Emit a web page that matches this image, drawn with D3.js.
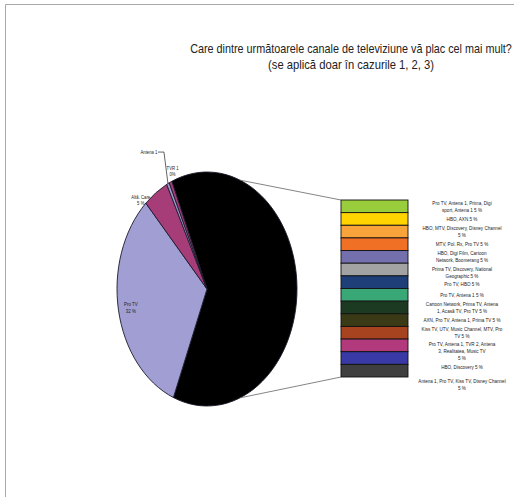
<!DOCTYPE html>
<html><head><meta charset="utf-8">
<script src="https://cdn.jsdelivr.net/npm/d3@7"></script>
<style>body{margin:0;background:#fff}svg{display:block}</style>
</head><body>
<script>
// ---------- data ----------
const titleLines = ["Care dintre următoarele canale de televiziune vă plac cel mai mult?", "(se aplică doar în cazurile 1, 2, 3)"];
const pieCategories = ["Pro TV", "Altă. Care", "Antena 1", "TVR 1"];
const pieValues = [32, 4.5, 0.5, 0.5];
const pieLabels = [["Pro TV", "32 %"], ["Altă. Care", "5 %"], ["Antena 1"], ["TVR 1", "0%"]];
const pieColors = ["#a09ed2", "#a73d78", "#9a98cc", "#a73d78"];
const otherColor = "#000000";
const barCategories = [
  "Pro TV, Antena 1, Prima, Digi sport, Antena 1",
  "HBO, AXN",
  "HBO, MTV, Discovery, Disney Channel",
  "MTV, Pol. Rx, Pro TV",
  "HBO, Digi Film, Cartoon Network, Boomerang",
  "Prima TV, Discovery, National Geographic",
  "Pro TV, HBO",
  "Pro TV, Antena 1",
  "Cartoon Network, Prima TV, Antena 1, Acasă TV, Pro TV",
  "AXN, Pro TV, Antena 1, Prima TV",
  "Kiss TV, UTV, Music Channel, MTV, Pro TV",
  "Pro TV, Antena 1, TVR 2, Antena 3, Realitatea, Music TV",
  "HBO, Discovery",
  "Antena 1, Pro TV, Kiss TV, Disney Channel"
];
const barValues = [4.46, 4.46, 4.46, 4.46, 4.46, 4.46, 4.46, 4.46, 4.46, 4.46, 4.46, 4.46, 4.46, 4.46];
const barLabelLines = [
  ["Pro TV, Antena 1, Prima, Digi", "sport, Antena 1  5 %"],
  ["HBO, AXN  5 %"],
  ["HBO, MTV, Discovery, Disney Channel", "5 %"],
  ["MTV, Pol. Rx, Pro TV 5 %"],
  ["HBO, Digi Film, Cartoon", "Network, Boomerang 5 %"],
  ["Prima TV, Discovery, National", "Geographic 5 %"],
  ["Pro TV, HBO  5 %"],
  ["Pro TV, Antena 1 5 %"],
  ["Cartoon Network, Prima TV, Antena", "1, Acasă TV, Pro TV 5 %"],
  ["AXN, Pro TV, Antena 1, Prima TV  5 %"],
  ["Kiss TV, UTV, Music Channel, MTV, Pro", "TV 5 %"],
  ["Pro TV, Antena 1, TVR 2, Antena", "3, Realitatea, Music TV", "5 %"],
  ["HBO, Discovery 5 %"],
  ["Antena 1, Pro TV, Kiss TV, Disney Channel", "5 %"]
];
const barColors = ["#9acd3c", "#ffd400", "#f8a43a", "#f07126", "#7470ae", "#a3a3a3", "#1e3f78", "#3aa876",
                   "#1c3a22", "#3a3a16", "#a8431f", "#b23a7c", "#3a3aa6", "#3f3f3f"];

// ---------- layout ----------
const W = 514, H = 497;
const FONT = "'Liberation Sans',Arial,sans-serif";
const svg = d3.select("body").append("svg").attr("width", W).attr("height", H)
  .style("font-family", FONT);
svg.append("rect").attr("width", W).attr("height", H).attr("fill", "#fff");
// frame
svg.append("path").attr("d", `M${W},4.5 H5.5 V${H}`).attr("fill", "none").attr("stroke", "#a8a8a8").attr("stroke-width", 1);

// title (horizontally condensed to mimic Arial Narrow)
const titleWidths = [322, 166];
titleLines.forEach((line, i) => {
  const g = svg.append("g");
  const t = g.append("text").attr("x", 0).attr("y", 0)
    .attr("text-anchor", "middle").attr("font-size", 12.5).attr("fill", "#222").text(line);
  const nat = t.node().getComputedTextLength();
  g.attr("transform", `translate(351,${53 + i * 16}) scale(${titleWidths[i] / nat},1)`);
});

// pie
const cx = 207, cy = 289, rx = 90, ry = 117;
const otherValue = d3.sum(barValues);
const pieData = [{name: "Other", value: otherValue, color: otherColor, label: null}]
  .concat(pieCategories.map((c, i) => ({name: c, value: pieValues[i], color: pieColors[i], label: pieLabels[i]})));
const pie = d3.pie().sort(null).value(d => d.value).startAngle(-23 * Math.PI / 180).endAngle(337 * Math.PI / 180);
const arcs = pie(pieData);
const arc = d3.arc().innerRadius(0).outerRadius(ry);

const ell = (a, f) => [cx + rx * f * Math.sin(a), cy - ry * f * Math.cos(a)];

// outside labels drawn under the pie (Excel style overlap)
const gLab = svg.append("g").attr("fill", "#222");
const labOffsets = {"Altă. Care": [-15, 6], "Antena 1": [-19, -30], "TVR 1": [2, -12]};
arcs.forEach(a => {
  if (!a.data.label || a.data.name === "Pro TV") return;
  const mid = (a.startAngle + a.endAngle) / 2;
  const p = ell(mid, 1.0);
  const o = labOffsets[a.data.name];
  const g = gLab.append("g").attr("transform", `translate(${p[0] + o[0]},${p[1] + o[1]}) scale(0.85,1)`);
  const t = g.append("text").attr("font-size", 5).attr("text-anchor", "middle");
  a.data.label.forEach((line, i) => t.append("tspan").attr("x", 0).attr("y", i * 6).text(line));
  if (a.data.name === "Antena 1") {
    const tx = p[0] + o[0] + 9, ty = p[1] + o[1] - 1.5;
    svg.append("path").attr("d", `M${tx},${ty} H${tx + 6} L${p[0]},${p[1]}`)
      .attr("fill", "none").attr("stroke", "#222").attr("stroke-width", 0.7);
  }
});

const gPie = svg.append("g").attr("transform", `translate(${cx},${cy}) scale(${rx / ry},1)`);
gPie.selectAll("path").data(arcs).join("path")
  .attr("d", arc).attr("fill", d => d.data.color)
  .attr("stroke", "#1a1a2a").attr("stroke-width", 0.9).attr("vector-effect", "non-scaling-stroke");

// Pro TV label inside slice
arcs.filter(a => a.data.name === "Pro TV").forEach(a => {
  const mid = (a.startAngle + a.endAngle) / 2;
  const p = ell(mid, 0.86);
  const g = svg.append("g").attr("transform", `translate(${p[0]},${p[1]}) scale(0.85,1)`);
  const t = g.append("text").attr("font-size", 5.2).attr("text-anchor", "middle").attr("fill", "#222");
  a.data.label.forEach((line, i) => t.append("tspan").attr("x", 0).attr("y", -1 + i * 7).text(line));
});

// bar (pie-of-bar)
const bx0 = 341, bx1 = 408, by0 = 200, by1 = 377;
const y = d3.scaleLinear().domain([0, otherValue]).range([by0, by1]);
let acc = 0;
const barData = barValues.map((v, i) => { const d = {i, v, y0: acc, y1: acc + v}; acc += v; return d; });
svg.append("g").selectAll("rect").data(barData).join("rect")
  .attr("x", bx0).attr("width", bx1 - bx0)
  .attr("y", d => y(d.y0)).attr("height", d => y(d.y1) - y(d.y0))
  .attr("fill", d => barColors[d.i]).attr("stroke", "#111").attr("stroke-width", 0.9);

// connector lines
const pTop = ell(21.5 * Math.PI / 180, 1), pBot = ell(158.5 * Math.PI / 180, 1);
svg.append("path").attr("d", `M${pTop[0]},${pTop[1]} L${bx0},${by0} M${pBot[0]},${pBot[1]} L${bx0},${by1}`)
  .attr("stroke", "#666").attr("stroke-width", 0.8).attr("fill", "none");

// bar labels with simple push-down overlap avoidance
const LH = 7;
let prevBottom = -Infinity;
const gB = svg.append("g").attr("transform", "translate(462,0) scale(0.85,1)")
  .attr("font-size", 5.4).attr("fill", "#222").attr("text-anchor", "middle");
barData.forEach((d, idx) => {
  const lines = barLabelLines[d.i];
  const h = lines.length * LH;
  const c = (y(d.y0) + y(d.y1)) / 2;
  const gap = idx === barData.length - 1 ? 7 : 1.5;
  const top = Math.max(c - h / 2, prevBottom + gap);
  prevBottom = top + h;
  const t = gB.append("text");
  lines.forEach((line, k) => t.append("tspan").attr("x", 0).attr("y", top + LH * (k + 0.75)).text(line));
});
</script>
</body></html>
